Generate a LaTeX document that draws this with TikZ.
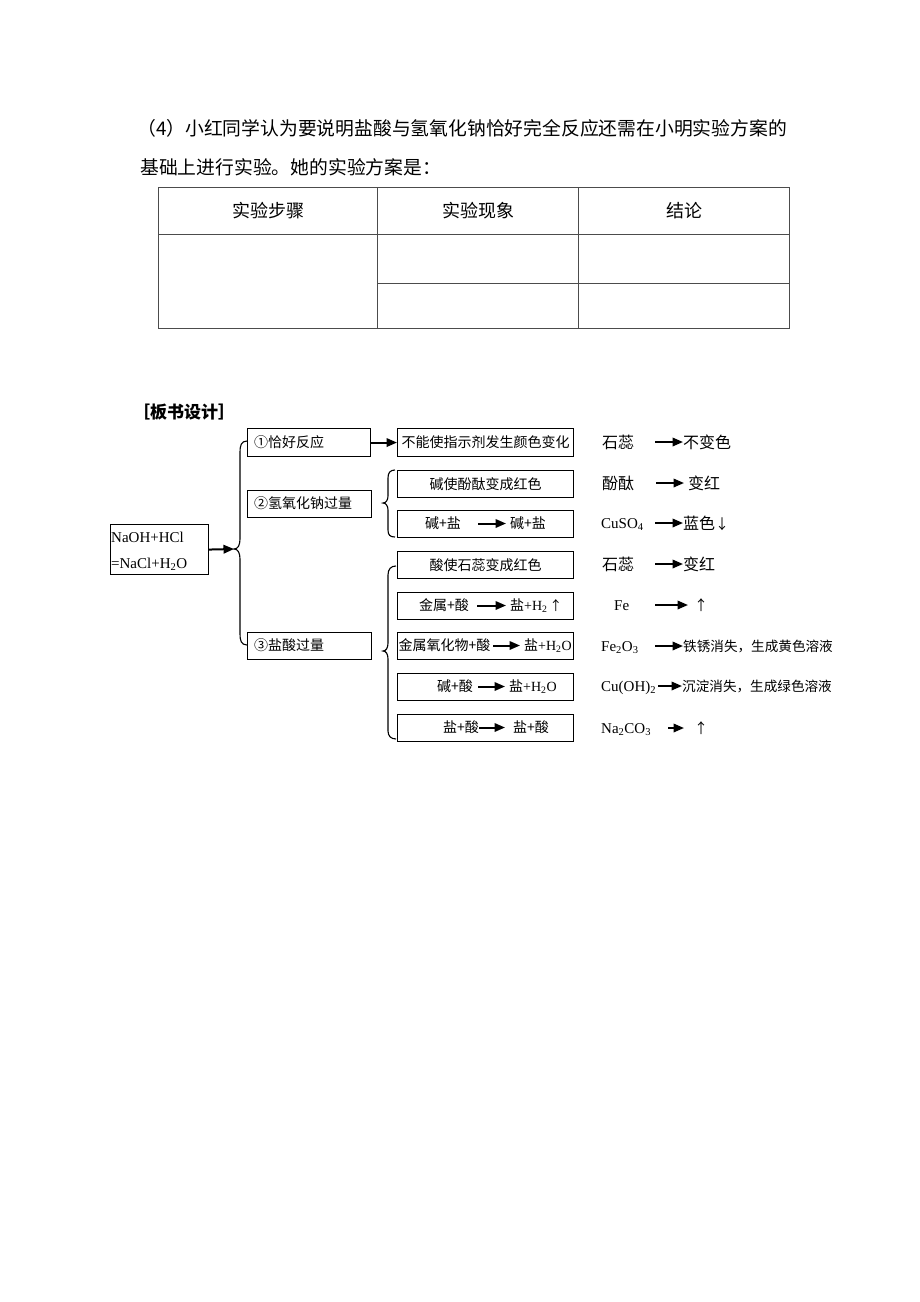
\documentclass[tikz,border=0pt]{standalone}
\usepackage{fontspec}
\setmainfont{Liberation Serif}
\newfontfamily\cjk{Noto Sans CJK SC}
\usetikzlibrary{arrows.meta}
\newcommand\fs[1]{\fontsize{#1}{#1}\selectfont}
\begin{document}
\begin{tikzpicture}[x=1pt,y=-1pt,
  txt/.style={inner sep=0pt, anchor=west},
  cn/.style={txt, font=\cjk\fs{14}},
  rc/.style={txt, font=\cjk\fs{16}},
  rl/.style={inner sep=0pt, anchor=base west, font=\rmfamily\fs{15}},
  bl/.style={inner sep=0pt, anchor=base west, font=\rmfamily\fs{15}},
  box/.style={draw, line width=1.1pt, inner sep=0pt, anchor=north west, font=\cjk\fs{14}},
  tbl/.style={draw=black!70, line width=0.9pt},
  arr/.style={-{Triangle[length=10.5pt,width=8.5pt]}, line width=2pt},
  brace/.style={line width=1.1pt}]
\useasboundingbox[fill=white] (0,0) rectangle (920,1302);

% top text
\node[txt, font=\cjk\fs{18.8}] (l1) at (137,128) {（4）小红同学认为要说明盐酸与氢氧化钠恰好完全反应还需在小明实验方案的};
\node[txt, font=\cjk\fs{18.8}] (l2) at (140,167) {基础上进行实验。她的实验方案是：};

% table
\draw[tbl] (158,187) rectangle (789,328);
\draw[tbl] (377,187) -- (377,328);
\draw[tbl] (578,187) -- (578,328);
\draw[tbl] (158,234) -- (789,234);
\draw[tbl] (377,283) -- (789,283);
\node[inner sep=0pt, font=\cjk\fs{18}] (h1) at (268,211) {实验步骤};
\node[inner sep=0pt, font=\cjk\fs{18}] (h2) at (478,211) {实验现象};
\node[inner sep=0pt, font=\cjk\fs{18}] (h3) at (684,211) {结论};

% heading
\node[txt, font=\cjk\bfseries\fs{17}] (hd) at (133,412) {［板书设计］};

% equation box
\node[draw, line width=1.1pt, inner sep=0pt, anchor=north west, minimum width=98pt, minimum height=50pt] (eq) at (110,524) {};
\node[bl] (eq1) at (111,542.5) {NaOH+HCl};
\node[bl] (eq2) at (111,568.5) {=NaCl+H\textsubscript{2}O};
\coordinate (btip) at (234,549);
\draw[arr] (eq.east) -- (btip);

% big brace
\draw[brace] (247,441) .. controls (241,441) and (240,446) .. (240,452) -- (240,539)
  .. controls (240,545) and (238,549) .. (btip)
  .. controls (238,549) and (240,553) .. (240,559) -- (240,634)
  .. controls (240,640) and (241,645) .. (247,645);

% category boxes
\node[box, minimum width=123pt, minimum height=28pt] (c1) at (247,428) {};
\node[cn] (c1t) at (254,442) {①恰好反应};
\node[box, minimum width=124pt, minimum height=27pt] (c2) at (247,490) {};
\node[cn] (c2t) at (254,503.5) {②氢氧化钠过量};
\node[box, minimum width=124pt, minimum height=27pt] (c3) at (247,632) {};
\node[cn] (c3t) at (254,645.5) {③盐酸过量};

% middle boxes
\node[box, minimum width=176pt, minimum height=28pt] (m1) at (397,428) {不能使指示剂发生颜色变化};
\draw[arr] (c1.east) -- (m1.west);

\node[box, minimum width=176pt, minimum height=27pt] (m2) at (397,470) {碱使酚酞变成红色};
\node[box, minimum width=176pt, minimum height=27pt] (m3) at (397,510) {};
\node[box, minimum width=176pt, minimum height=27pt] (m4) at (397,551) {酸使石蕊变成红色};
\node[box, minimum width=176pt, minimum height=27pt] (m5) at (397,592) {};
\node[box, minimum width=176pt, minimum height=27pt] (m6) at (397,632) {};
\node[box, minimum width=176pt, minimum height=27pt] (m7) at (397,673) {};
\node[box, minimum width=176pt, minimum height=27pt] (m8) at (397,714) {};

% braces for groups
\draw[brace] (395,470) .. controls (390,470) and (388,473) .. (388,478) -- (388,496)
  .. controls (388,500) and (386,503) .. (383,503)
  .. controls (386,503) and (388,506) .. (388,510) -- (388,530)
  .. controls (388,535) and (390,537) .. (395,537);
\draw[brace] (396,566) .. controls (391,566) and (388,569) .. (388,575) -- (388,643)
  .. controls (388,648) and (386,651) .. (383,651)
  .. controls (386,651) and (388,654) .. (388,659) -- (388,731)
  .. controls (388,736) and (391,739) .. (396,739);

% box contents with arrows
\node[cn] (m3a) at (425,523.5) {碱+盐};
\coordinate (m3s) at (478,523.5);
\node[cn] (m3b) at (510,523.5) {碱+盐};
\draw[arr, shorten >=4pt] (m3s) -- (m3b.west);

\node[cn] (m5a) at (419,605.5) {金属+酸};
\coordinate (m5s) at (477,605.5);
\node[txt] (m5b) at (510,605.5) {{\cjk\fs{14}盐}{\rmfamily\fs{14}+H\textsubscript{2}}\,{\cjk\fs{13}↑}};
\draw[arr, shorten >=4pt] (m5s) -- (m5b.west);

\node[cn] (m6a) at (398.5,645.5) {金属氧化物+酸};
\coordinate (m6s) at (493,645.5);
\node[txt] (m6b) at (524,645.5) {{\cjk\fs{14}盐}{\rmfamily\fs{14}+H\textsubscript{2}O}};
\draw[arr, shorten >=4pt] (m6s) -- (m6b.west);

\node[cn] (m7a) at (437,686.5) {碱+酸};
\coordinate (m7s) at (478,686.5);
\node[txt] (m7b) at (509,686.5) {{\cjk\fs{14}盐}{\rmfamily\fs{14}+H\textsubscript{2}O}};
\draw[arr, shorten >=4pt] (m7s) -- (m7b.west);

\node[cn] (m8a) at (443,727.5) {盐+酸};
\node[cn] (m8b) at (513,727.5) {盐+酸};
\draw[arr] (m8a.east) -- ([xshift=-8pt]m8b.west);

% right column
\node[rc] (r1a) at (602,442) {石蕊};
\coordinate (r1s) at (655,442);
\node[rc] (r1b) at (683,442) {不变色};
\draw[arr] (r1s) -- (r1b.west);

\node[rc] (r2a) at (602,483) {酚酞};
\coordinate (r2s) at (656,483);
\node[rc] (r2b) at (688,483) {变红};
\draw[arr] (r2s) -- ([xshift=-4pt]r2b.west);

\node[rl] (r3a) at (601,528) {CuSO\textsubscript{4}};
\coordinate (r3s) at (655,523);
\node[rc] (r3b) at (683,523) {蓝色{\fs{14}↓}};
\draw[arr] (r3s) -- (r3b.west);

\node[rc] (r4a) at (602,564) {石蕊};
\coordinate (r4s) at (655,564);
\node[rc] (r4b) at (683,564) {变红};
\draw[arr] (r4s) -- (r4b.west);

\node[rl] (r5a) at (614,610) {Fe};
\coordinate (r5s) at (655,605);
\node[rc, font=\cjk\fs{14}] (r5b) at (694,605) {↑};
\draw[arr] (r5s) -- ([xshift=-6pt]r5b.west);

\node[rl] (r6a) at (601,651) {Fe\textsubscript{2}O\textsubscript{3}};
\coordinate (r6s) at (655,646);
\node[txt, font=\cjk\fs{13.6}] (r6b) at (683,646) {铁锈消失，生成黄色溶液};
\draw[arr] (r6s) -- (r6b.west);

\node[rl] (r7a) at (601,691) {Cu(OH)\textsubscript{2}};
\coordinate (r7s) at (658,686);
\node[txt, font=\cjk\fs{13.6}] (r7b) at (682,686) {沉淀消失，生成绿色溶液};
\draw[arr] (r7s) -- (r7b.west);

\node[rl] (r8a) at (601,733) {Na\textsubscript{2}CO\textsubscript{3}};
\coordinate (r8s) at (668,728);
\node[rc, font=\cjk\fs{14}] (r8b) at (694,728) {↑};
\draw[arr] (r8s) -- ([xshift=-10pt]r8b.west);
\end{tikzpicture}
\end{document}
